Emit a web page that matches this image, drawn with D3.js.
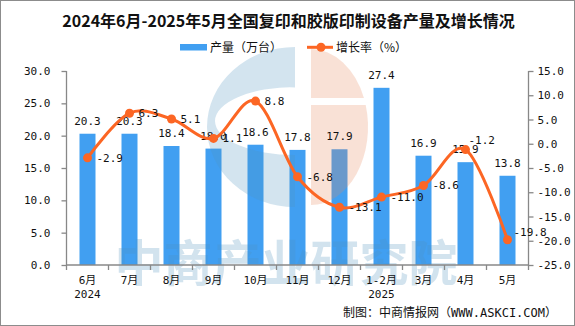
<!DOCTYPE html>
<html><head><meta charset="utf-8">
<script src="https://cdn.jsdelivr.net/npm/d3@7/dist/d3.min.js"></script>
<style>
html,body{margin:0;padding:0;background:#fff;}
svg{display:block;}
</style></head>
<body>
<svg id="chart" width="575" height="326"></svg>
<script>
const categories = ["6月","7月","8月","9月","10月","11月","12月","1-2月","3月","4月","5月"];
const yearLabels = ["2024","","","","","","","2025","","",""];
const production = [20.3,20.3,18.4,18.0,18.6,17.8,17.9,27.4,16.9,15.9,13.8];
const growth = [-2.9,6.3,5.1,1.1,8.8,-6.8,-13.1,-11.0,-8.6,-1.2,-19.8];
const leftTicks = [0,5,10,15,20,25,30];
const rightTicks = [-25,-20,-15,-10,-5,0,5,10,15];
const title = "2024年6月-2025年5月全国复印和胶版印制设备产量及增长情况";
const legendNames = ["产量（万台）","增长率（%）"];
const source = "制图：中商情报网（WWW.ASKCI.COM）";

const W = 575, H = 326;
const svg = d3.select("#chart");
const monoFont = "'DejaVu Sans Mono','Noto Sans CJK SC',monospace";
const cjkFont = "'Noto Sans CJK SC','DejaVu Sans',sans-serif";
const barColor = "#419ff1";
const lineColor = "#fc6624";

// frame
svg.append("rect").attr("x",0.5).attr("y",0.5).attr("width",W-1).attr("height",H-1)
  .attr("fill","#fff").attr("stroke","#8c8c8c").attr("stroke-width",1);

const plotL = 66.5, plotR = 528.5, plotT = 71, plotB = 265;
const x = d3.scaleBand().domain(categories).range([plotL, plotR]).paddingInner(0).paddingOuter(0);
const yL = d3.scaleLinear().domain([0,30]).range([plotB, plotT]);
const yR = d3.scaleLinear().domain([-25,15]).range([plotB, plotT]);
const barW = 16;

// title
svg.append("text").attr("x",288.5).attr("y",26.5).attr("text-anchor","middle")
  .attr("font-family",cjkFont).attr("font-weight","bold").attr("font-size",16)
  .attr("fill","#111").text(title);

// legend
const lg = svg.append("g");
lg.append("rect").attr("x",180).attr("y",44).attr("width",27).attr("height",6.5).attr("fill",barColor);
lg.append("text").attr("x",210).attr("y",51.5).attr("font-family",cjkFont).attr("font-size",12).attr("fill","#111").text(legendNames[0]);
lg.append("line").attr("x1",307).attr("x2",333).attr("y1",47.3).attr("y2",47.3).attr("stroke",lineColor).attr("stroke-width",3);
lg.append("circle").attr("cx",321).attr("cy",47.3).attr("r",4.5).attr("fill",lineColor);
lg.append("text").attr("x",336).attr("y",51.5).attr("font-family",cjkFont).attr("font-size",12).attr("fill","#111").text(legendNames[1]);

// bars
svg.append("g").selectAll("rect").data(production).join("rect")
  .attr("x",(d,i)=>x(categories[i]) + x.bandwidth()/2 - barW/2)
  .attr("y",d=>yL(d)).attr("width",barW).attr("height",d=>plotB - yL(d))
  .attr("fill",barColor);

// watermark (semi-transparent overlay)
const wm = svg.append("g").attr("pointer-events","none");
const bc = "rgb(79,147,191)", oc = "rgb(232,136,90)";
const op = 0.25;
const cx = 295, cy = 127;
const outerRx = 88, outerRy = 80, innerRx = 80, innerRy = 34, innerCy = 121;
const bluePath = `M${cx},${cy-outerRy} A${outerRx},${outerRy} 0 0 0 ${cx},${cy+outerRy} Z ` +
  `M${cx},${innerCy-innerRy} A${innerRx},${innerRy} 0 0 0 ${cx},${innerCy+innerRy} Z`;
wm.append("path").attr("d",bluePath).attr("fill",bc).attr("fill-rule","evenodd").attr("opacity",op);
const ocx = 311, ocy = 127, orx = 57, ory = 78;
const ya = 98, yb = 105;
const orangeTop = `M${ocx},${ocy-ory} A${orx},${ory} 0 0 1 ${ocx+orx*Math.sqrt(1-Math.pow((ya-ocy)/ory,2))},${ya} L${ocx},${ya} Z`;
const orangeBot = `M${ocx},${yb} L${ocx+orx*Math.sqrt(1-Math.pow((yb-ocy)/ory,2))},${yb} A${orx},${ory} 0 0 1 ${ocx},${ocy+ory} Z`;
wm.append("path").attr("d",orangeTop).attr("fill",oc).attr("opacity",op);
wm.append("path").attr("d",orangeBot).attr("fill",oc).attr("opacity",op);
wm.append("text").attr("x",286).attr("y",281).attr("text-anchor","middle")
  .attr("font-family",cjkFont).attr("font-weight","bold").attr("font-size",49)
  .attr("fill",bc).attr("opacity",op).text("中商产业研究院");

// axes
const axisColor = "#888";
const gL = svg.append("g").attr("transform",`translate(${plotL},0)`)
  .call(d3.axisLeft(yL).tickValues(leftTicks).tickSize(5).tickPadding(11).tickFormat(d3.format(".1f")));
const gR = svg.append("g").attr("transform",`translate(${plotR},0)`)
  .call(d3.axisRight(yR).tickValues(rightTicks).tickSize(5).tickPadding(4).tickFormat(d=>d3.format(".1f")(d).replace("−","-")));
const gX = svg.append("g").attr("transform",`translate(0,${plotB})`)
  .call(d3.axisBottom(x).tickSize(0).tickPadding(11));
[gL,gR,gX].forEach(g=>{
  g.select(".domain").attr("stroke",axisColor).attr("stroke-width",1.3);
  g.selectAll(".tick line").attr("stroke",axisColor).attr("stroke-width",1.3);
  g.selectAll("text").attr("fill","#111").attr("font-family",monoFont).attr("font-size",11);
});
gL.select(".domain").attr("d",`M0,${plotT}V${plotB}`);
gR.select(".domain").attr("d",`M0,${plotT}V${plotB}`);
gX.select(".domain").attr("d",`M${plotL},0H${plotR}`);
const bounds = categories.map(c=>x(c)).concat([plotR]);
gX.append("g").selectAll("line").data(bounds).join("line")
  .attr("x1",d=>d).attr("x2",d=>d).attr("y1",0).attr("y2",5)
  .attr("stroke",axisColor).attr("stroke-width",1.3);
gX.append("g").selectAll("text").data(yearLabels).join("text")
  .attr("x",(d,i)=>x(categories[i]) + x.bandwidth()/2).attr("y",33)
  .attr("text-anchor","middle").attr("font-family",monoFont).attr("font-size",11).attr("fill","#111")
  .text(d=>d);

// bar value labels
svg.append("g").selectAll("text").data(production).join("text")
  .attr("x",(d,i)=>x(categories[i]) + x.bandwidth()/2).attr("y",d=>yL(d)-9)
  .attr("text-anchor","middle").attr("font-family",monoFont).attr("font-size",11).attr("fill","#111")
  .text(d=>d.toFixed(1));

// growth line
const pts = growth.map((d,i)=>[x(categories[i]) + x.bandwidth()/2, yR(d)]);
svg.append("path").attr("d",d3.line().curve(d3.curveCatmullRom.alpha(0))(pts))
  .attr("fill","none").attr("stroke",lineColor).attr("stroke-width",3).attr("stroke-linejoin","round");
svg.append("g").selectAll("circle").data(pts).join("circle")
  .attr("cx",d=>d[0]).attr("cy",d=>d[1]).attr("r",4.5).attr("fill",lineColor);

// growth labels
const special = {9:[3,-10], 10:[6,-8]};
svg.append("g").selectAll("text").data(growth).join("text")
  .attr("x",(d,i)=>pts[i][0] + (special[i] ? special[i][0] : 9))
  .attr("y",(d,i)=>pts[i][1] + (special[i] ? special[i][1] : 0) + 4)
  .attr("font-family",monoFont).attr("font-size",11).attr("fill","#111")
  .text(d=>d.toFixed(1));

// source
svg.append("text").attr("x",557).attr("y",317).attr("text-anchor","end")
  .attr("font-family",monoFont).attr("font-size",12).attr("fill","#111").text(source);
</script>
</body></html>
